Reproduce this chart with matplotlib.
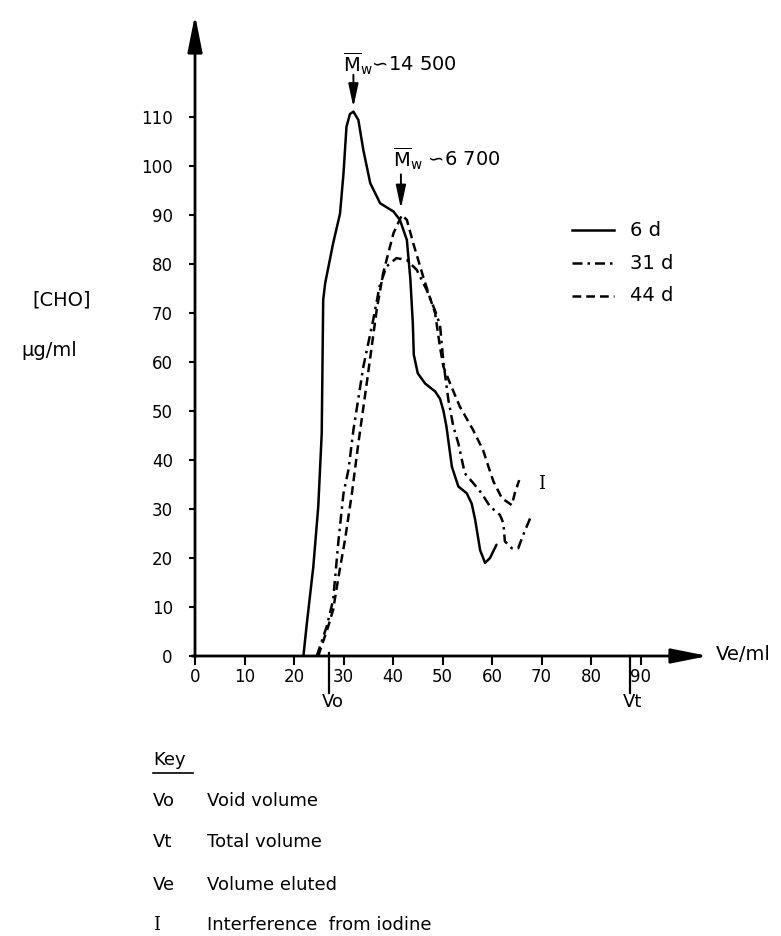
import numpy as np
import matplotlib
matplotlib.use("Agg")
import matplotlib.pyplot as plt

# ==============================================================================
# Global Settings
# ==============================================================================
plt.rcParams['font.family'] = ['DejaVu Sans']
plt.rcParams['mathtext.fontset'] = 'dejavusans'

W, H = 781, 936

# ==============================================================================
# Data
# ==============================================================================
x_6d = [21.9, 22.6, 23.9, 24.9, 25.6, 25.9, 26.3, 27.9, 29.3, 30.0, 30.6, 31.3, 32.0,
        33.0, 34.0, 35.4, 37.4, 40.1, 41.4, 42.8, 43.5, 44.0, 44.2, 45.0, 46.5,
        48.5, 49.5, 50.2, 50.8, 51.9, 53.2, 54.9, 55.9, 56.6, 57.6, 58.6, 59.6, 60.9]
y_6d = [0, 6.7, 18.2, 30.5, 45.4, 72.7, 76.1, 84.2, 90.3, 98.5, 108, 110.6, 111.1,
        109.4, 103.3, 96.5, 92.4, 90.7, 89.0, 84.9, 77, 68, 61.5, 57.7, 55.6,
        54.0, 52.5, 50.0, 46.8, 38.6, 34.6, 33.2, 31.1, 27.8, 21.6, 19.0, 20.0, 22.7]

x_31d = [24.6, 26.6, 27.9, 29.0, 30.0, 31.0, 32.0, 34.0, 36.0, 37.3, 38.7, 40.7, 42.8,
         44.8, 46.8, 48.5, 49.5, 50.2, 51.2, 52.2, 53.2, 54.5, 56.2, 57.9, 59.6,
         61.6, 62.3, 62.6, 64.0, 65.3, 66.3, 67.7]
y_31d = [0, 6.0, 11.4, 23.7, 33.2, 38.0, 46.1, 59.0, 68.6, 75.5, 79.5, 81.2, 80.8,
         78.8, 74.7, 70.5, 67.5, 59.8, 52.2, 46.8, 43.4, 37.3, 35.3, 33.2, 30.5,
         28.8, 27.1, 23.4, 22.0, 22.0, 24.7, 28.1]

x_44d = [24.9, 26.9, 27.9, 29.0, 30.3, 31.7, 33.0, 34.7, 36.7, 38.0, 40.1, 41.8, 42.8,
         44.1, 46.1, 47.5, 48.5, 49.5, 50.2, 51.5, 53.5, 56.2, 58.2, 59.3, 60.3,
         62.0, 64.0, 64.6, 65.5]
y_44d = [0, 6.0, 9.4, 16.2, 23.7, 33.2, 43.4, 55.7, 70.6, 78.1, 86.3, 90.0, 89.0,
         84.2, 77.4, 73.0, 70.0, 63.0, 59.0, 55.7, 50.9, 46.1, 42.0, 38.6, 35.6,
         32.2, 30.8, 33.2, 35.9]

series_labels = ['6 d', '31 d', '44 d']
x_ticks = list(range(0, 100, 10))
y_ticks = list(range(0, 120, 10))

vo, vt = 27.0, 87.9
peak_labels = ['14 500', '6 700']
peak_x = [32.0, 41.6]

key_codes = ['Vo', 'Vt', 'Ve', 'I']
key_texts = ['Void volume', 'Total volume', 'Volume eluted', 'Interference  from iodine']

# ==============================================================================
# Figure
# ==============================================================================
fig = plt.figure(figsize=(W / 100, H / 100), dpi=100)
x0, y0, x1, y1 = 195, 656, 708, 15
ax = fig.add_axes([x0 / W, 1 - y0 / H, (x1 - x0) / W, (y0 - y1) / H])
XMAX = (x1 - x0) / 4.95
YMAX = (y0 - y1) / 4.90
ax.set_xlim(0, XMAX)
ax.set_ylim(0, YMAX)
for s in ax.spines.values():
    s.set_visible(False)

lw = 1.8
ax.plot(x_6d, y_6d, color='black', lw=lw, ls='-', solid_capstyle='round')
ax.plot(x_31d, y_31d, color='black', lw=lw, ls=(0, (4, 2, 1, 2)))
ax.plot(x_44d, y_44d, color='black', lw=lw, ls=(0, (3.5, 2)))

# axes with arrows
arrow = dict(arrowstyle='-|>,head_length=1.6,head_width=0.32', lw=2, color='black',
             mutation_scale=14, shrinkA=0, shrinkB=0)
ax.annotate('', xy=(XMAX, 0), xytext=(-0.6, 0), arrowprops=arrow, annotation_clip=False)
ax.annotate('', xy=(0, YMAX), xytext=(0, -0.3), arrowprops=arrow, annotation_clip=False)

ax.set_xticks(x_ticks)
ax.set_yticks(y_ticks)
ax.tick_params(axis='x', direction='out', length=6.5, width=1.5, pad=2, labelsize=12)
ax.tick_params(axis='y', direction='out', length=4, width=1.5, pad=12, labelsize=12)

# Vo / Vt markers
ax.plot([vo, vo], [0.6, -7.5], color='black', lw=1.6, clip_on=False)
ax.plot([vt, vt], [0, -7.5], color='black', lw=1.6, clip_on=False)
ax.text(vo - 1.4, -9.3, 'Vo', fontsize=13, ha='left', va='center')
ax.text(vt - 1.4, -9.3, 'Vt', fontsize=13, ha='left', va='center')

# peak annotations
mw = r'$\overline{\mathrm{M}}_{\mathrm{w}}$'
ax.text(29.9, 119.2, mw + '\u223d14 500', fontsize=14, ha='left', va='baseline')
ax.text(40.0, 99.8, mw + ' \u223d6 700', fontsize=14, ha='left', va='baseline')
small_arrow = dict(arrowstyle='-|>,head_length=1.4,head_width=0.3', lw=1.4, color='black',
                   mutation_scale=10, shrinkA=0, shrinkB=0)
ax.annotate('', xy=(peak_x[0], 112.0), xytext=(peak_x[0], 118.6), arrowprops=small_arrow)
ax.annotate('', xy=(peak_x[1], 91.3), xytext=(peak_x[1], 98.3), arrowprops=small_arrow)

# iodine interference marker
ax.text(70.0, 35.0, 'I', fontsize=13, family='DejaVu Serif', ha='center', va='center')

# legend drawn by hand
styles = ['-', (0, (4, 2, 1, 2)), (0, (3.5, 2))]
leg_y = [86.9, 80.2, 73.5]
for lab, st, yy in zip(series_labels, styles, leg_y):
    ax.plot([76.2, 84.6], [yy, yy], color='black', lw=lw, ls=st)
    ax.text(87.9, yy, lab, fontsize=14, ha='left', va='center')

ax.text(XMAX + 1.6, 0.3, 'Ve/ml', fontsize=14, ha='left', va='center')

# y label
fig.text(62 / W, 1 - 300 / H, '[CHO]', fontsize=14, ha='center', va='center')
fig.text(49 / W, 1 - 351 / H, '\u03bcg/ml', fontsize=14, ha='center', va='center')

# key
fig.text(153 / W, 1 - 760 / H, 'Key', fontsize=13, ha='left', va='center')
fig.add_artist(plt.Line2D([153 / W, 193 / W], [1 - 773 / H, 1 - 773 / H],
                          color='black', lw=1.2))
key_y = [801, 842, 885, 925]
for code, txt, yy in zip(key_codes, key_texts, key_y):
    fam = 'DejaVu Serif' if code == 'I' else 'DejaVu Sans'
    fig.text(153 / W, 1 - yy / H, code, fontsize=13, family=fam, ha='left', va='center')
    fig.text(207 / W, 1 - yy / H, txt, fontsize=13, ha='left', va='center')

fig.savefig('out.png', dpi=100)
